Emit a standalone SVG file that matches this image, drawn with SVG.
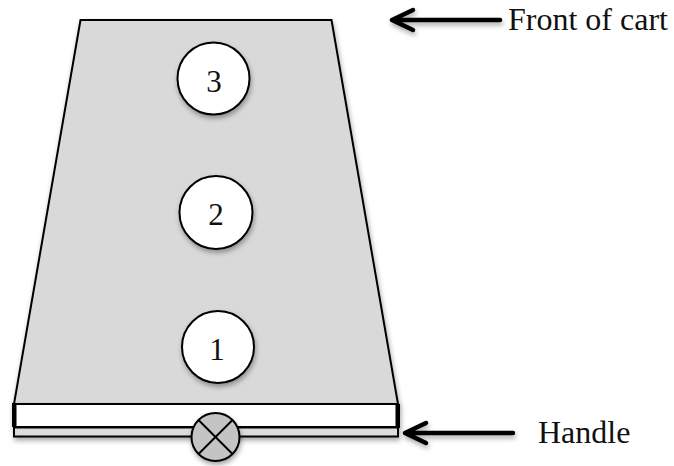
<svg xmlns="http://www.w3.org/2000/svg" width="674" height="466" viewBox="0 0 674 466">
<defs>
<filter id="sh" x="-20%" y="-20%" width="140%" height="150%">
<feDropShadow dx="1" dy="3" stdDeviation="2.5" flood-color="#000" flood-opacity="0.35"/>
</filter>
</defs>
<style>
.body{fill:#d9d9d9;stroke:#000;stroke-width:2;stroke-linejoin:miter}
.pos{fill:#fff;stroke:#000;stroke-width:2}
.lbl{font-family:"Liberation Serif","Times New Roman",serif;font-size:32px;fill:#111}
.num{font-family:"Liberation Serif","Times New Roman",serif;font-size:31px;fill:#111;text-anchor:middle}
.arr{fill:none;stroke:#000;stroke-width:4.5;stroke-linecap:round;stroke-linejoin:round}
</style>
<rect width="674" height="466" fill="#fff"/>
<g id="cart" filter="url(#sh)">
<polygon class="body" points="80.5,20 331.5,20 398,404 14,404"/>
</g>
<g id="handle" filter="url(#sh)">
<rect x="14" y="404" width="384" height="23" fill="#fff" stroke="#000" stroke-width="2"/>
<rect x="14" y="427.5" width="384" height="9" fill="#dcdcdc" stroke="#000" stroke-width="2"/>
<rect x="12" y="403" width="4.5" height="24" fill="#000"/>
<rect x="395.5" y="404" width="4.5" height="24" fill="#000"/>
</g>
<g id="handle-knob" filter="url(#sh)">
<circle cx="215.5" cy="437" r="24" fill="#c4c4c4" stroke="#000" stroke-width="2"/>
<line x1="198.5" y1="420" x2="232.5" y2="454" stroke="#000" stroke-width="2"/>
<line x1="232.5" y1="420" x2="198.5" y2="454" stroke="#000" stroke-width="2"/>
</g>
<g id="pos3">
<circle class="pos" cx="213.5" cy="78.5" r="36" filter="url(#sh)"/>
<text class="num" x="214" y="91.5">3</text>
</g>
<g id="pos2">
<circle class="pos" cx="216" cy="212.5" r="36.5" filter="url(#sh)"/>
<text class="num" x="216" y="225">2</text>
</g>
<g id="pos1">
<circle class="pos" cx="218" cy="347" r="36" filter="url(#sh)"/>
<text class="num" x="217" y="360">1</text>
</g>
<g id="connectors" filter="url(#sh)">
<path class="arr" d="M500,20 L392,20 M413,10 L392,20 L413,30"/>
<path class="arr" d="M513,433 L405,433 M426,423 L405,433 L426,443"/>
</g>
<g id="labels">
<text class="lbl" x="508" y="30">Front of cart</text>
<text class="lbl" x="538" y="443">Handle</text>
</g>
</svg>
